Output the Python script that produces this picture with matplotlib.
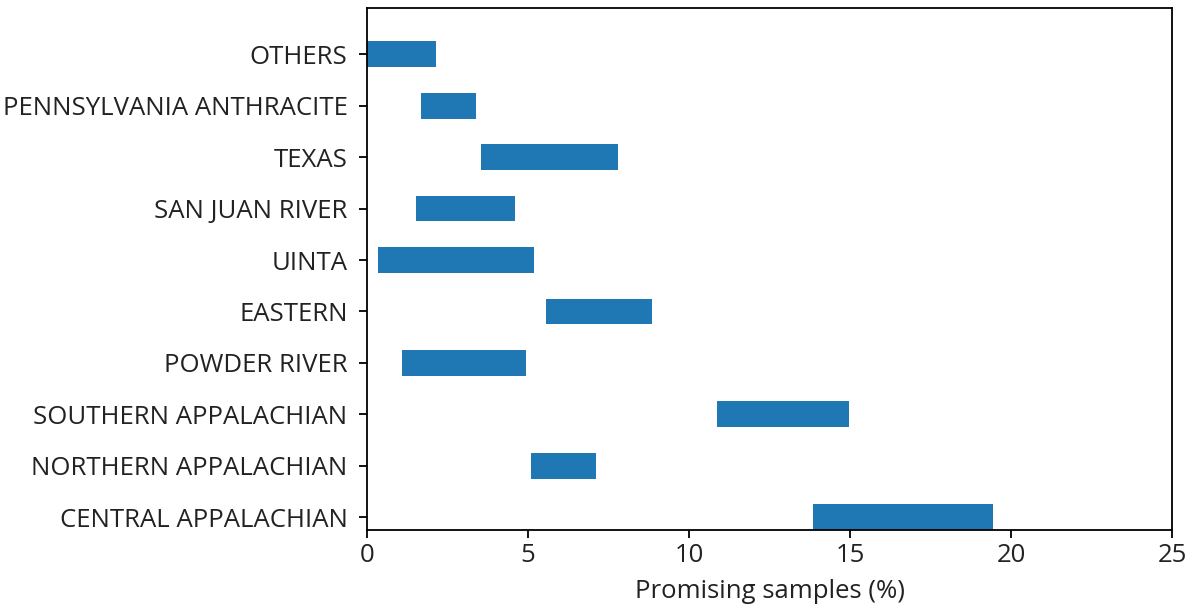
import matplotlib.pyplot as plt
import numpy as np

# Cuencas y rango (inicio, fin) de muestras prometedoras en %
cuencas = ['CENTRAL APPALACHIAN', 'NORTHERN APPALACHIAN', 'SOUTHERN APPALACHIAN',
           'POWDER RIVER', 'EASTERN', 'UINTA', 'SAN JUAN RIVER', 'TEXAS',
           'PENNSYLVANIA ANTHRACITE', 'OTHERS']
inicio = [13.86, 5.10, 10.86, 1.08, 5.55, 0.33, 1.52, 3.55, 1.68, 0.0]
fin = [19.45, 7.12, 14.96, 4.95, 8.84, 5.18, 4.59, 7.80, 3.38, 2.13]

plt.rcParams['font.family'] = ['Open Sans', 'DejaVu Sans']

inicio = np.array(inicio)
fin = np.array(fin)
y = np.arange(len(cuencas))

fig = plt.figure(figsize=(11.91, 6.10), dpi=100)
ax = fig.add_axes([0.3081, 0.1311, 0.6760, 0.8558])

ax.barh(y, fin - inicio, left=inicio, height=0.5, color='#1f77b4')

ax.set_yticks(y)
ax.set_yticklabels(cuencas)
ax.set_xlim(0, 25)
ax.set_ylim(-0.25, 9.9)
ax.set_xticks([0, 5, 10, 15, 20, 25])
ax.set_xlabel('Promising samples (%)', fontsize=18.5, color='#222222', labelpad=8)
ax.tick_params(axis='y', pad=8)
ax.tick_params(labelsize=18.5, length=6, width=1.3, labelcolor='#222222')
for s in ax.spines.values():
    s.set_linewidth(1.3)

fig.savefig('out.png', dpi=100)
